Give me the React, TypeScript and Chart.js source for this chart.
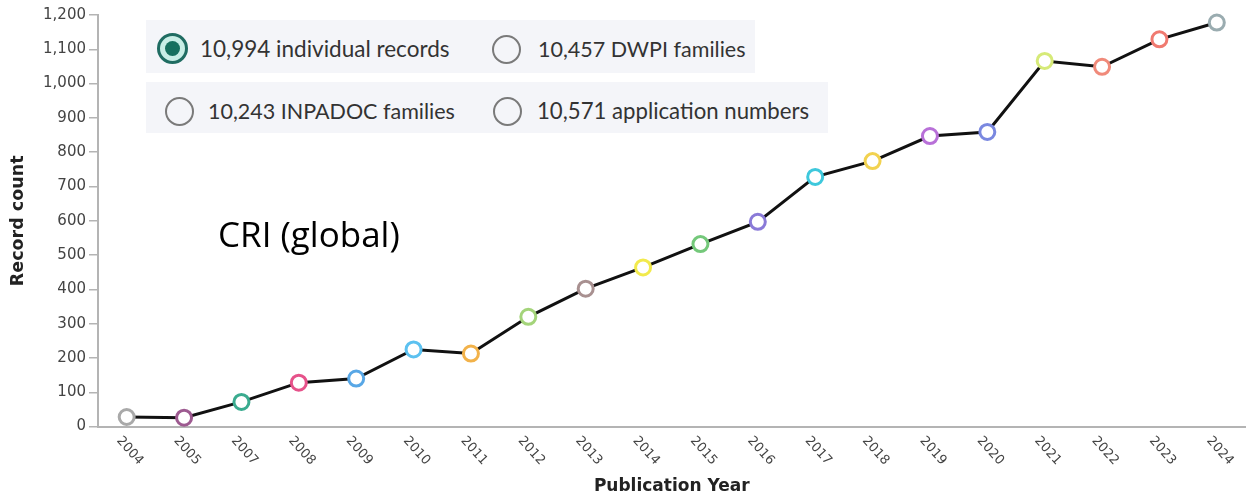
import React, { useEffect, useRef } from 'react';
import { Chart, registerables } from 'chart.js';

Chart.register(...registerables);

const years = ['2004', '2005', '2007', '2008', '2009', '2010', '2011', '2012', '2013', '2014', '2015', '2016', '2017', '2018', '2019', '2020', '2021', '2022', '2023', '2024'];
const recordCounts = [28, 26, 72, 128, 140, 225, 213, 320, 402, 464, 532, 597, 728, 774, 847, 859, 1066, 1049, 1129, 1178];
const pointColors = ['#a9a9a9', '#9d5a90', '#3aab8f', '#e6528a', '#58a7e6', '#5cc1f0', '#f2b24a', '#a4d47a', '#a89090', '#f2ea4c', '#74c87a', '#8a7ad8', '#3ec8dc', '#f2d250', '#b870d8', '#7a88e0', '#d6ea78', '#f08a7a', '#f07a70', '#9aacb0'];
const yTickValues = [0, 100, 200, 300, 400, 500, 600, 700, 800, 900, 1000, 1100, 1200];
const legendLabels = ['10,994 individual records', '10,457 DWPI families', '10,243 INPADOC families', '10,571 application numbers'];
const legendSelected = [true, false, false, false];
const yAxisTitle = 'Record count';
const xAxisTitle = 'Publication Year';
const annotationText = 'CRI (global)';

const rotatedXLabels = {
  id: 'rotatedXLabels',
  afterDraw(chart: any) {
    const { ctx } = chart;
    const x = chart.scales.x;
    const y0 = chart.chartArea.bottom;
    ctx.save();
    ctx.font = '13px "DejaVu Sans"';
    ctx.fillStyle = '#444444';
    ctx.textAlign = 'left';
    ctx.textBaseline = 'middle';
    years.forEach((label, i) => {
      const px = x.getPixelForValue(i);
      ctx.save();
      ctx.translate(px - 8, y0 + 12);
      ctx.rotate((48 * Math.PI) / 180);
      ctx.fillText(label, 0, 0);
      ctx.restore();
    });
    ctx.restore();
  },
};

function Radio({ selected }: { selected: boolean }) {
  if (selected) {
    return (
      <div style={{ boxSizing: 'border-box', width: 31, height: 31, borderRadius: '50%', border: '3.5px solid #1f6c62', background: '#c8eee6', display: 'flex', alignItems: 'center', justifyContent: 'center' }}>
        <div style={{ width: 15, height: 15, borderRadius: '50%', background: '#16705f' }} />
      </div>
    );
  }
  return <div style={{ boxSizing: 'border-box', width: 29, height: 29, borderRadius: '50%', border: '2.5px solid #7a7a7a', background: 'transparent' }} />;
}

export default function App() {
  const canvasRef = useRef<HTMLCanvasElement>(null);

  useEffect(() => {
    const canvas = canvasRef.current;
    if (!canvas) return;
    const chart = new Chart(canvas, {
      type: 'line',
      data: {
        labels: years,
        datasets: [
          {
            data: recordCounts,
            borderColor: '#111111',
            borderWidth: 3,
            tension: 0,
            pointRadius: 7.5,
            pointHoverRadius: 7.5,
            pointBorderWidth: 3,
            pointHoverBorderWidth: 3,
            pointBackgroundColor: '#ffffff',
            pointBorderColor: pointColors,
            clip: false,
          } as any,
        ],
      },
      options: {
        responsive: false,
        animation: false,
        events: [],
        layout: { padding: { top: 15, right: 4, bottom: 0, left: 0 } },
        plugins: { legend: { display: false }, tooltip: { enabled: false } },
        scales: {
          x: {
            type: 'category',
            offset: true,
            grid: { display: false, drawTicks: false },
            border: { display: true, color: '#b4b4b4', width: 2 },
            ticks: { display: false },
            title: {
              display: true,
              text: xAxisTitle,
              color: '#222222',
              font: { family: '"DejaVu Sans"', size: 17, weight: 'bold' },
              padding: { top: 50, bottom: 2 },
            },
          },
          y: {
            min: 0,
            max: 1200,
            afterFit: (s: any) => {
              s.width = 98;
            },
            afterBuildTicks: (s: any) => {
              s.ticks = yTickValues.map((v) => ({ value: v }));
            },
            grid: { drawOnChartArea: false, drawTicks: true, tickLength: 9, color: '#b4b4b4', lineWidth: 1.5 },
            border: { display: true, color: '#b4b4b4', width: 2 },
            ticks: {
              padding: 3,
              color: '#444444',
              font: { family: '"DejaVu Sans"', size: 15 },
              callback: (v: any) => Number(v).toLocaleString('en-US'),
            },
            title: {
              display: true,
              text: yAxisTitle,
              color: '#222222',
              font: { family: '"DejaVu Sans"', size: 17.5, weight: 'bold' },
              padding: { top: 8, bottom: 0 },
            },
          },
        },
      },
      plugins: [rotatedXLabels],
    });
    return () => chart.destroy();
  }, []);

  const textStyle: React.CSSProperties = { position: 'absolute', fontFamily: 'Lato', fontSize: 22, color: '#333333', whiteSpace: 'nowrap', lineHeight: '30px' };

  return (
    <div style={{ position: 'absolute', left: 0, top: 0, width: 1247, height: 499, overflow: 'hidden', background: '#ffffff' }}>
      <canvas ref={canvasRef} width={1256} height={499} style={{ position: 'absolute', left: 0, top: 0, width: 1256, height: 499 }} />
      <div style={{ position: 'absolute', left: 146, top: 20, width: 609, height: 53, background: '#f4f5f9' }} />
      <div style={{ position: 'absolute', left: 146, top: 82, width: 682, height: 51, background: '#f4f5f9' }} />
      <div style={{ position: 'absolute', left: 157, top: 33 }}><Radio selected={legendSelected[0]} /></div>
      <div style={{ ...textStyle, left: 200, top: 34, fontSize: 22.5 }}>{legendLabels[0]}</div>
      <div style={{ position: 'absolute', left: 492, top: 35 }}><Radio selected={legendSelected[1]} /></div>
      <div style={{ ...textStyle, left: 538, top: 34, fontSize: 21.5 }}>{legendLabels[1]}</div>
      <div style={{ position: 'absolute', left: 165, top: 97 }}><Radio selected={legendSelected[2]} /></div>
      <div style={{ ...textStyle, left: 208, top: 96, fontSize: 21.5 }}>{legendLabels[2]}</div>
      <div style={{ position: 'absolute', left: 493, top: 97 }}><Radio selected={legendSelected[3]} /></div>
      <div style={{ ...textStyle, left: 537, top: 96, fontSize: 22.2 }}>{legendLabels[3]}</div>
      <div style={{ position: 'absolute', left: 218, top: 212, fontFamily: '"Open Sans"', fontSize: 35, color: '#000000', whiteSpace: 'nowrap', lineHeight: '44px' }}>{annotationText}</div>
    </div>
  );
}
